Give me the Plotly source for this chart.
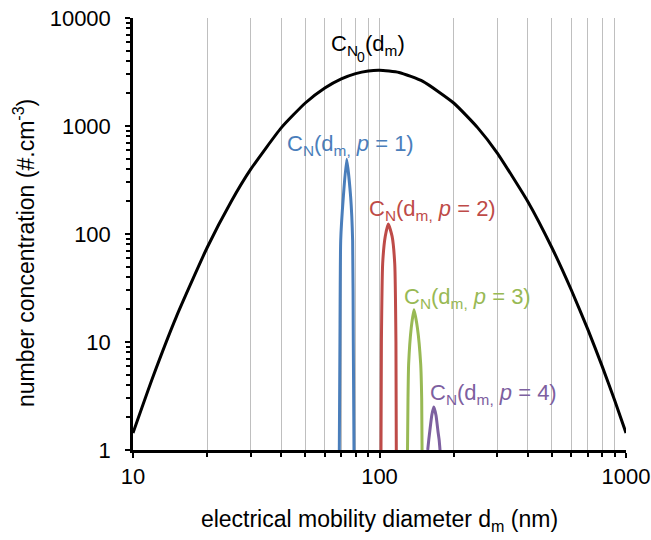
import plotly.graph_objects as go

# Total distribution C_N0(dm)
x_total = [10, 12, 15, 20, 25, 30, 40, 50, 60, 70, 80, 90, 100, 120, 150, 200, 250, 300, 400, 500, 600, 700, 800, 900, 1000]
y_total = [1.44, 4.65, 17.2, 75, 199, 396, 966, 1633, 2249, 2731, 3057, 3236, 3289, 3133, 2588, 1633, 966, 565, 199, 75, 30.3, 13.1, 5.98, 2.87, 1.44]

# Charge-selected peaks
x_p1 = [68.7, 69.1, 69.6, 71.3, 73.6, 76.4, 77.8, 78.3, 78.8]
y_p1 = [1, 10, 87, 218, 491, 218, 87, 10, 1]
x_p2 = [101.4, 101.8, 103.0, 105.5, 108.6, 112.5, 115.3, 116.6, 117.0]
y_p2 = [1, 10, 53, 95, 124, 95, 53, 10, 1]
x_p3 = [129.9, 130.5, 131.3, 134.5, 138.0, 142.5, 146.9, 148.3, 148.8]
y_p3 = [1, 3, 6.3, 13.5, 19.9, 13.5, 6.3, 3, 1]
x_p4 = [156.9, 158.5, 160.0, 163.0, 166.0, 169.5, 172.6, 174.5, 176.0]
y_p4 = [1, 1.25, 1.5, 2.1, 2.5, 2.1, 1.5, 1.25, 1]

x_major = [10, 100, 1000]
x_minor = [20, 30, 40, 50, 60, 70, 80, 90, 200, 300, 400, 500, 600, 700, 800, 900]
y_major = [1, 10, 100, 1000, 10000]
y_minor = [2, 3, 4, 5, 6, 7, 8, 9, 20, 30, 40, 50, 60, 70, 80, 90,
           200, 300, 400, 500, 600, 700, 800, 900, 2000, 3000, 4000, 5000, 6000, 7000, 8000, 9000]

colors = ["#000000", "#4A7EBB", "#BE4B48", "#98B954", "#7D60A0"]
FONT = "Arial, Liberation Sans, sans-serif"

fig = go.Figure()
for xs, ys, c in [(x_total, y_total, colors[0]), (x_p1, y_p1, colors[1]), (x_p2, y_p2, colors[2]),
                  (x_p3, y_p3, colors[3]), (x_p4, y_p4, colors[4])]:
    fig.add_trace(go.Scatter(x=xs, y=ys, mode="lines", line=dict(color=c, width=3, shape="spline", smoothing=0.5),
                             showlegend=False, hoverinfo="skip"))

labels = [
    ("C<sub>N</sub>(d<sub>m,</sub> <i>p</i> = 1)", 1.884, 2.821, colors[1]),
    ("C<sub>N</sub>(d<sub>m,</sub> <i>p</i> = 2)", 2.213, 2.218, colors[2]),
    ("C<sub>N</sub>(d<sub>m,</sub> <i>p</i> = 3)", 2.355, 1.411, colors[3]),
    ("C<sub>N</sub>(d<sub>m,</sub> <i>p</i> = 4)", 2.464, 0.520, colors[4]),
]
for t, lx, ly, c in labels:
    fig.add_annotation(x=lx, y=ly, xref="x", yref="y", text=t, showarrow=False,
                       font=dict(family=FONT, size=22, color=c), xanchor="center", yanchor="middle")

# C_N0(dm) label built from three pieces
fig.add_annotation(x=1.9128, y=3.749, xref="x", yref="y", text="C<sub>N</sub>", showarrow=False,
                   font=dict(family=FONT, size=22, color=colors[0]), xanchor="right", yanchor="middle", xshift=2)
fig.add_annotation(x=1.925, y=3.64, xref="x", yref="y", text="0", showarrow=False,
                   font=dict(family=FONT, size=14, color=colors[0]), xanchor="center", yanchor="middle")
fig.add_annotation(x=1.941, y=3.749, xref="x", yref="y", text="(d<sub>m</sub>)", showarrow=False,
                   font=dict(family=FONT, size=22, color=colors[0]), xanchor="left", yanchor="middle", xshift=-2)

# y-axis title (placed as rotated annotation)
fig.add_annotation(x=-0.221, y=0.456, xref="paper", yref="paper", text="number concentration (#.cm<sup>-3</sup>)",
                   showarrow=False, textangle=-90, font=dict(family=FONT, size=23, color="#000000"),
                   xanchor="center", yanchor="middle")

fig.update_layout(
    width=651, height=540,
    margin=dict(l=133, r=25, t=18, b=90),
    paper_bgcolor="white", plot_bgcolor="white",
    font=dict(family=FONT, size=21, color="#000000"),
)
fig.update_xaxes(
    type="log", range=[1, 3], tickvals=x_major, ticktext=[str(v) for v in x_major],
    showline=True, linecolor="black", linewidth=2.5, ticks="outside", ticklen=5, tickwidth=2, tickcolor="black",
    showgrid=True, gridcolor="#BFBFBF", gridwidth=1,
    minor=dict(tickvals=x_minor, ticks="outside", ticklen=4, tickwidth=1.5, tickcolor="black",
               showgrid=True, gridcolor="#BFBFBF", gridwidth=1),
    tickfont=dict(size=22), automargin=False,
    title=dict(text="electrical mobility diameter d<sub>m</sub> (nm)", font=dict(size=23), standoff=23),
    zeroline=False,
)
fig.update_yaxes(
    type="log", range=[0, 4], tickvals=y_major, ticktext=[str(v) for v in y_major],
    showline=True, linecolor="black", linewidth=2.5, ticks="outside", ticklen=5, tickwidth=2, tickcolor="black",
    showgrid=False, ticklabelstandoff=10, automargin=False,
    minor=dict(tickvals=y_minor, ticks="outside", ticklen=4, tickwidth=1.5, tickcolor="black", showgrid=False),
    tickfont=dict(size=22),
    zeroline=False,
)

fig.write_html("out.html")
